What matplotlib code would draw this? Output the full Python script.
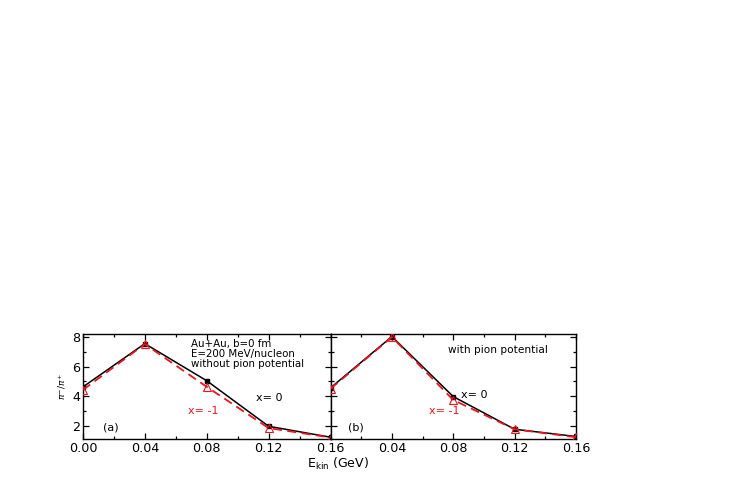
import matplotlib
matplotlib.use("Agg")
import matplotlib.pyplot as plt
from matplotlib.ticker import MultipleLocator

plt.rcParams['font.family'] = ['DejaVu Sans']
plt.rcParams['mathtext.fontset'] = 'dejavusans'

energy = [0.00, 0.04, 0.08, 0.12, 0.16]
a_x0 = [4.62, 7.55, 5.04, 1.96, 1.22]
a_xm1 = [4.42, 7.52, 4.63, 1.84, 1.20]
b_x0 = [4.56, 8.03, 3.97, 1.76, 1.27]
b_xm1 = [4.50, 8.00, 3.74, 1.76, 1.22]

fig = plt.figure(figsize=(7.47, 4.8), dpi=100)
left, mid, right = 0.111, 0.4425, 0.771
bottom, height = 0.0854, 0.2187
axa = fig.add_axes([left, bottom, mid - left, height])
axb = fig.add_axes([mid, bottom, right - mid, height])

red = '#e8141e'
for ax, y0, y1 in ((axa, a_x0, a_xm1), (axb, b_x0, b_xm1)):
    ax.plot(energy, y0, color='black', ls='-', lw=1.1, marker='s', ms=3.5,
            mfc='black', mec='black', zorder=2)
    ax.plot(energy, y1, color=red, ls=(0, (5, 3)), lw=1.3, marker='^', ms=5.5,
            mfc='none', mec=red, mew=0.8, zorder=3)
    ax.set_xlim(0, 0.16)
    ax.set_ylim(1.1, 8.2)
    ax.xaxis.set_major_locator(MultipleLocator(0.04))
    ax.xaxis.set_minor_locator(MultipleLocator(0.02))
    ax.yaxis.set_major_locator(MultipleLocator(2))
    ax.yaxis.set_minor_locator(MultipleLocator(1))
    ax.tick_params(which='both', direction='in', top=True, right=True,
                   labelsize=9.2, width=0.9, pad=2.0)
    ax.tick_params(which='major', length=4)
    ax.tick_params(which='minor', length=2.5)
    for s in ax.spines.values():
        s.set_linewidth(1.0)

axa.set_xticks([0.0, 0.04, 0.08, 0.12, 0.16])
axa.set_xticklabels(['0.00', '0.04', '0.08', '0.12', '0.16'])
axb.set_xticks([0.04, 0.08, 0.12, 0.16])
axb.set_xticklabels(['0.04', '0.08', '0.12', '0.16'])
axb.set_yticklabels([])

axa.set_ylabel(r'$\pi^{-}/\pi^{+}$', fontsize=6.5, labelpad=3)

axa.text(0.435, 0.955, 'Au+Au, b=0 fm\nE=200 MeV/nucleon\nwithout pion potential',
         transform=axa.transAxes, fontsize=7.4, va='top', ha='left', linespacing=1.0)
axa.text(0.70, 0.36, 'x= 0', transform=axa.transAxes, fontsize=8, color='black')
axa.text(0.425, 0.24, 'x= -1', transform=axa.transAxes, fontsize=8, color=red)
axa.text(0.08, 0.08, '(a)', transform=axa.transAxes, fontsize=8)

axb.text(0.48, 0.82, 'with pion potential', transform=axb.transAxes, fontsize=7.6)
axb.text(0.53, 0.39, 'x= 0', transform=axb.transAxes, fontsize=8, color='black')
axb.text(0.40, 0.24, 'x= -1', transform=axb.transAxes, fontsize=8, color=red)
axb.text(0.07, 0.08, '(b)', transform=axb.transAxes, fontsize=8)

fig.canvas.draw()
renderer = fig.canvas.get_renderer()
lab_bottom = min(t.get_window_extent(renderer).y0 for t in axa.get_xticklabels())
xl = fig.text(0.453, (lab_bottom - 1.5) / fig.bbox.height, r'E$_{\rm kin}$ (GeV)',
              fontsize=9, ha='center', va='top')

fig.savefig('out.png', dpi=100)
